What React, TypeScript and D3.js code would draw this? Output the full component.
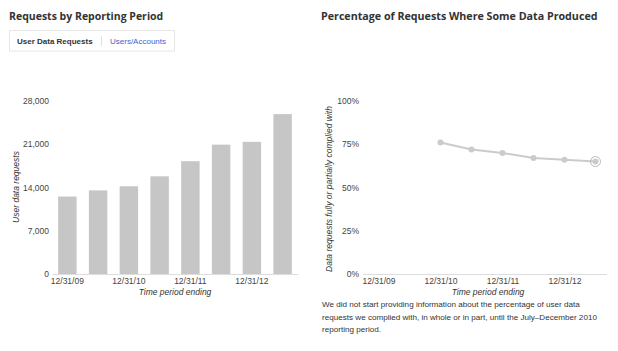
import React, { useRef, useEffect } from "react";
import * as d3 from "d3";

const periods = ["12/31/09", "6/30/10", "12/31/10", "6/30/11", "12/31/11", "6/30/12", "12/31/12", "6/30/13"];
const tickPeriods = ["12/31/09", "12/31/10", "12/31/11", "12/31/12"];
const userDataRequests = [12539, 13534, 14201, 15807, 18257, 20938, 21389, 25879];
const requestTicks = [0, 7000, 14000, 21000, 28000];
// percentages start with the Jul-Dec 2010 period
const compliedPeriods = ["12/31/10", "6/30/11", "12/31/11", "6/30/12", "12/31/12", "6/30/13"];
const compliedPct = [76, 72, 70, 67, 66, 65];
const pctTicks = [0, 25, 50, 75, 100];
const noteLines = [
    "We did not start providing information about the percentage of user data",
    "requests we complied with, in whole or in part, until the July\u2013December 2010",
    "reporting period.",
];

const App = () => {
    const ref = useRef<SVGSVGElement>(null);

    useEffect(() => {
        const width = 618;
        const height = 351;
        const fontColor = "#333";
        const tickColor = "#444";
        const axisColor = "#ddd";
        const barColor = "#c6c6c6";
        const lineColor = "#cbcbcb";
        const titleFont = "'Open Sans', sans-serif";
        const bodyFont = "'Liberation Sans', Arial, sans-serif";

        const svg = d3.select(ref.current)
            .attr("width", width)
            .attr("height", height);
        svg.selectAll("*").remove();

        // ---------- left chart: requests by reporting period ----------
        svg.append("text")
            .attr("x", 9)
            .attr("y", 20)
            .text("Requests by Reporting Period")
            .style("font-family", titleFont)
            .style("font-weight", "bold")
            .style("font-size", "10.5px")
            .style("fill", fontColor);

        // tabs
        svg.append("rect")
            .attr("x", 9.5).attr("y", 30.5)
            .attr("width", 165).attr("height", 20.5)
            .attr("fill", "#fff")
            .attr("stroke", "#e6e6e6");
        svg.append("line")
            .attr("x1", 101.5).attr("x2", 101.5)
            .attr("y1", 36).attr("y2", 46)
            .attr("stroke", "#e0e0e0");
        svg.append("text")
            .attr("x", 17).attr("y", 44)
            .text("User Data Requests")
            .style("font-family", bodyFont)
            .style("font-weight", "bold")
            .style("font-size", "8px")
            .style("fill", fontColor);
        svg.append("text")
            .attr("x", 110).attr("y", 44)
            .text("Users/Accounts")
            .style("font-family", bodyFont)
            .style("font-size", "8px")
            .style("fill", "#3d5fd6");

        const x1 = d3.scaleBand()
            .domain(periods)
            .range([52, 298])
            .paddingInner(0.4)
            .paddingOuter(0.2);
        const y1 = d3.scaleLinear()
            .domain([0, 28000])
            .range([274, 101]);

        svg.append("g")
            .selectAll("rect")
            .data(userDataRequests)
            .join("rect")
            .attr("x", (d, i) => x1(periods[i]))
            .attr("width", x1.bandwidth())
            .attr("y", d => y1(d))
            .attr("height", d => y1(0) - y1(d))
            .attr("fill", barColor);

        const yAxis1 = svg.append("g")
            .attr("transform", "translate(52,0)")
            .call(d3.axisLeft(y1).tickValues(requestTicks).tickSize(0).tickPadding(3).tickFormat(d3.format(",")));
        yAxis1.select(".domain").remove();
        yAxis1.selectAll("text")
            .style("font-family", bodyFont)
            .style("font-size", "8.5px")
            .style("fill", tickColor);

        const xAxis1 = svg.append("g")
            .attr("transform", "translate(0,274)")
            .call(d3.axisBottom(x1).tickValues(tickPeriods).tickSize(0).tickPadding(4));
        xAxis1.select(".domain").attr("stroke", axisColor);
        xAxis1.selectAll("text")
            .style("font-family", bodyFont)
            .style("font-size", "8.5px")
            .style("fill", tickColor);

        svg.append("text")
            .attr("x", 175).attr("y", 294.5)
            .attr("text-anchor", "middle")
            .text("Time period ending")
            .style("font-family", bodyFont)
            .style("font-style", "italic")
            .style("font-size", "8.5px")
            .style("fill", fontColor);

        svg.append("text")
            .attr("transform", "translate(19,187) rotate(-90)")
            .attr("text-anchor", "middle")
            .text("User data requests")
            .style("font-family", bodyFont)
            .style("font-style", "italic")
            .style("font-size", "8.5px")
            .style("fill", fontColor);

        // ---------- right chart: percentage complied ----------
        svg.append("text")
            .attr("x", 321)
            .attr("y", 20)
            .text("Percentage of Requests Where Some Data Produced")
            .style("font-family", titleFont)
            .style("font-weight", "bold")
            .style("font-size", "10.7px")
            .style("fill", fontColor);

        const x2 = d3.scalePoint()
            .domain(periods)
            .range([363, 611])
            .padding(0.5);
        const y2 = d3.scaleLinear()
            .domain([0, 100])
            .range([274, 101]);

        const yAxis2 = svg.append("g")
            .attr("transform", "translate(363,0)")
            .call(d3.axisLeft(y2).tickValues(pctTicks).tickSize(0).tickPadding(4).tickFormat(d => d + "%"));
        yAxis2.select(".domain").remove();
        yAxis2.selectAll("text")
            .style("font-family", bodyFont)
            .style("font-size", "8.5px")
            .style("fill", tickColor);

        const xAxis2 = svg.append("g")
            .attr("transform", "translate(0,274)")
            .call(d3.axisBottom(x2).tickValues(tickPeriods).tickSize(0).tickPadding(4));
        xAxis2.select(".domain").attr("stroke", axisColor).attr("d", "M363,0.5H607");
        xAxis2.selectAll("text")
            .style("font-family", bodyFont)
            .style("font-size", "8.5px")
            .style("fill", tickColor);

        svg.append("text")
            .attr("x", 488).attr("y", 294.5)
            .attr("text-anchor", "middle")
            .text("Time period ending")
            .style("font-family", bodyFont)
            .style("font-style", "italic")
            .style("font-size", "8.5px")
            .style("fill", fontColor);

        svg.append("text")
            .attr("transform", "translate(332,189) rotate(-90)")
            .attr("text-anchor", "middle")
            .text("Data requests fully or partially complied with")
            .style("font-family", bodyFont)
            .style("font-style", "italic")
            .style("font-size", "8.5px")
            .style("fill", fontColor);

        const line = d3.line<number>()
            .x((d, i) => x2(compliedPeriods[i]) as number)
            .y(d => y2(d));

        svg.append("path")
            .datum(compliedPct)
            .attr("fill", "none")
            .attr("stroke", lineColor)
            .attr("stroke-width", 2)
            .attr("d", line);

        svg.append("g")
            .selectAll("circle")
            .data(compliedPct)
            .join("circle")
            .attr("cx", (d, i) => x2(compliedPeriods[i]) as number)
            .attr("cy", d => y2(d))
            .attr("r", 3)
            .attr("fill", lineColor);

        // highlighted latest point
        const last = compliedPct.length - 1;
        svg.append("circle")
            .attr("cx", x2(compliedPeriods[last]) as number)
            .attr("cy", y2(compliedPct[last]))
            .attr("r", 5)
            .attr("fill", "none")
            .attr("stroke", "#bbb")
            .attr("stroke-width", 1);

        svg.append("g")
            .selectAll("text")
            .data(noteLines)
            .join("text")
            .attr("x", 322)
            .attr("y", (d, i) => 307 + i * 12.5)
            .text(d => d)
            .style("font-family", bodyFont)
            .style("font-size", "8.1px")
            .style("fill", fontColor);
    }, []);

    return (
        <div style={{ position: "absolute", left: 0, top: 0 }}>
            <svg ref={ref} style={{ display: "block" }}></svg>
        </div>
    );
};

export default App;
